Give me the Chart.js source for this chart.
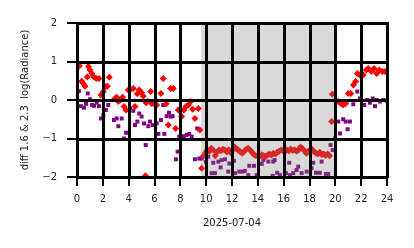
<!DOCTYPE html>
<html>
<head>
<meta charset="utf-8">
<script src="https://cdn.jsdelivr.net/npm/chart.js@4/dist/chart.umd.min.js"></script>
<style>
html,body{margin:0;padding:0;background:#fff;}
#wrap{width:414px;height:248px;position:relative;}
</style>
</head>
<body>
<div id="wrap"><canvas id="c"></canvas></div>
<script>
// Hours of day (x) and log-radiance differences (y)
const redX = [0.18,0.36,0.49,0.62,0.8,0.88,1.0,1.14,1.3,1.5,1.7,1.86,2.04,2.24,2.35,2.5,2.94,3.07,3.2,3.33,3.54,3.64,3.8,3.97,4.15,4.36,4.49,4.67,4.82,5.0,5.13,5.3,5.34,5.47,5.7,5.78,5.96,6.17,6.5,6.68,6.9,7.07,7.25,7.45,7.64,7.84,8.1,8.28,8.44,8.62,8.8,8.95,9.13,9.39,9.52,9.65,
9.8,9.95,10.1,10.25,10.4,10.55,10.7,10.85,11.0,11.15,11.3,11.45,11.6,11.75,11.9,12.05,12.2,12.35,12.5,12.65,12.8,12.95,13.1,13.25,13.4,13.55,13.7,13.85,14.0,14.15,14.3,14.45,14.6,14.75,14.9,15.05,15.2,15.35,15.5,15.65,15.8,15.95,16.1,16.25,16.4,16.55,16.7,16.85,17.0,17.15,17.3,17.45,17.6,17.75,17.9,18.05,18.2,18.35,18.5,18.65,18.8,18.95,19.1,19.25,19.4,19.55,
19.71,19.76,20.23,20.43,20.61,20.8,21.0,21.2,21.4,21.57,21.7,21.9,22.16,22.4,22.55,22.8,23.0,23.2,23.4,23.63,23.84];
const redY = [0.88,0.49,0.43,0.36,0.6,0.87,0.78,0.69,0.6,0.56,0.56,0.13,0.22,0.35,0.36,0.59,0.04,0.07,-0.04,0,0.07,-0.17,-0.26,0.26,0.28,0.3,-0.17,0.16,0.26,0.19,0.1,-1.97,-0.07,-0.04,0.22,-0.09,-0.09,-0.13,0.17,0.56,-0.1,-0.65,0.3,0.3,-0.74,-0.26,-0.43,-0.26,-0.17,-0.13,-0.04,-0.24,-0.48,-0.22,-0.78,-1.77,
-1.45,-1.37,-1.3,-1.33,-1.25,-1.3,-1.45,-1.35,-1.3,-1.32,-1.28,-1.3,-1.35,-1.3,-1.37,-1.3,-1.22,-1.27,-1.3,-1.35,-1.38,-1.33,-1.28,-1.25,-1.3,-1.36,-1.42,-1.45,-1.43,-1.46,-1.42,-1.45,-1.47,-1.43,-1.4,-1.43,-1.38,-1.4,-1.36,-1.33,-1.3,-1.32,-1.34,-1.3,-1.32,-1.27,-1.31,-1.29,-1.33,-1.3,-1.22,-1.26,-1.32,-1.38,-1.34,-1.3,-1.28,-1.34,-1.38,-1.4,-1.36,-1.42,-1.4,-1.44,-1.4,-1.45,
-0.56,0.15,-0.04,-0.09,-0.13,-0.09,0.17,0.17,0.39,0.48,0.69,0.65,0.65,0.78,0.82,0.74,0.82,0.69,0.78,0.74,0.74];

const purpleX = [0.15,0.31,0.54,0.7,0.83,1.0,1.18,1.32,1.52,1.7,1.86,2.04,2.24,2.42,2.86,3.07,3.2,3.46,3.64,3.8,4.1,4.36,4.49,4.67,4.82,5.0,5.19,5.32,5.52,5.65,5.86,6.04,6.17,6.3,6.5,6.68,6.76,6.94,7.12,7.25,7.4,7.66,7.79,7.92,8.1,8.28,8.49,8.69,8.88,9.13,9.31,9.47,
9.65,9.98,10.16,10.42,10.55,10.68,10.94,11.12,11.2,11.46,11.71,11.79,12.15,12.23,12.56,12.82,13.0,13.26,13.34,13.7,13.91,14.3,14.42,14.81,15.19,15.15,15.3,15.5,15.71,16.18,16.43,16.49,16.74,17.0,17.13,17.39,17.78,18.16,18.29,18.5,18.8,18.94,19.27,19.45,19.63,19.79,19.97,
20.23,20.36,20.61,20.8,20.95,21.13,21.39,21.7,21.9,22.24,22.47,22.68,22.89,23.07,23.2,23.45,23.71,23.97];
const purpleY = [0.23,-0.16,-0.2,-0.1,0.17,0.02,-0.13,-0.15,-0.07,-0.16,-0.48,-0.39,-0.26,-0.13,-0.52,-0.48,-0.68,-0.48,-1.0,-0.85,-0.22,-0.28,-0.65,-0.56,-0.35,-0.43,-0.61,-1.17,-0.68,-0.56,-0.65,-0.65,-0.61,-0.88,-0.52,-0.13,-0.88,-0.42,-0.33,-0.43,-0.42,-1.54,-1.34,-0.95,-0.95,-0.94,-0.91,-0.88,-0.95,-1.54,-0.74,-1.52,
-1.52,-1.6,-1.47,-1.9,-1.63,-1.9,-1.6,-1.75,-1.56,-1.54,-1.86,-1.65,-1.58,-1.9,-1.86,-1.86,-1.84,-1.95,-1.71,-1.71,-1.95,-1.66,-1.56,-1.6,-1.6,-1.97,-1.56,-1.89,-1.95,-1.9,-1.63,-1.95,-1.9,-1.82,-1.73,-1.9,-1.86,-1.77,-1.63,-1.89,-1.89,-1.6,-1.92,-1.92,-1.17,-1.3,-1.0,
-0.56,-0.87,-0.5,-0.56,-0.76,-0.56,-0.11,0.22,0.04,-0.13,0,-0.07,0.04,-0.16,0,-0.04,0,-0.02];

const xTicks = [0,2,4,6,8,10,12,14,16,18,20,22,24];
const yTicks = [-2,-1,0,1,2];
const shadeRange = [9.6, 20];
const dateLabel = '2025-07-04';
const yTitle = 'diff 1.6 & 2.3  log(Radiance)';

const toPts = (xs, ys) => xs.map((x, i) => ({x: x, y: ys[i]}));

// Shaded night span (over the points) and black grid on top of everything
const shadePlugin = {
  id: 'shade',
  afterDatasetsDraw(chart) {
    const {ctx, chartArea, scales} = chart;
    const x0 = scales.x.getPixelForValue(shadeRange[0]);
    const x1 = scales.x.getPixelForValue(shadeRange[1]);
    ctx.save();
    ctx.fillStyle = 'rgba(128,128,128,0.3)';
    ctx.fillRect(x0, chartArea.top, x1 - x0, chartArea.bottom - chartArea.top);
    ctx.restore();
  },
  afterDraw(chart) {
    const {ctx, chartArea, scales} = chart;
    ctx.save();
    ctx.globalAlpha = 1;
    ctx.globalCompositeOperation = 'source-over';
    ctx.fillStyle = '#000000';
    for (let i = 0; i < xTicks.length; i++) {
      const px = Math.round(scales.x.getPixelForValue(xTicks[i]));
      ctx.fillRect(px - 1, chartArea.top - 1, 3, chartArea.bottom - chartArea.top + 2);
    }
    for (let j = 0; j < yTicks.length; j++) {
      const py = Math.round(scales.y.getPixelForValue(yTicks[j]));
      ctx.fillRect(chartArea.left - 1, py - 1, chartArea.right - chartArea.left + 2, 3);
    }
    ctx.restore();
  }
};

const font = {family: 'DejaVu Sans', size: 10};

new Chart(document.getElementById('c'), {
  type: 'scatter',
  data: {
    datasets: [
      {label: 'purple', data: toPts(purpleX, purpleY), pointStyle: 'rect', pointRadius: 2.8, pointHoverRadius: 2.8, backgroundColor: '#800080', borderWidth: 0, order: 2},
      {label: 'red', data: toPts(redX, redY), pointStyle: 'rectRot', pointRadius: 3.5, pointHoverRadius: 3.5, backgroundColor: '#ff0000', borderWidth: 0, order: 1}
    ]
  },
  options: {
    responsive: true,
    maintainAspectRatio: false,
    devicePixelRatio: 1,
    animation: false,
    events: [],
    layout: {padding: {left: 0, right: 27, top: 23, bottom: 0}},
    plugins: {legend: {display: false}, tooltip: {enabled: false}},
    scales: {
      x: {
        type: 'linear', min: 0, max: 24,
        afterBuildTicks: s => { s.ticks = xTicks.map(v => ({value: v})); },
        afterFit: s => { s.height = 71; },
        grid: {drawOnChartArea: true, color: '#000', lineWidth: 2, tickLength: 9, tickColor: '#000', tickWidth: 2},
        border: {color: '#000', width: 2},
        ticks: {color: '#222', font: font, padding: 7, maxRotation: 0, autoSkip: false},
        title: {display: true, text: dateLabel, color: '#222', font: font, padding: {top: 0, bottom: 19}}
      },
      y: {
        type: 'linear', min: -2, max: 2,
        afterBuildTicks: s => { s.ticks = yTicks.map(v => ({value: v})); },
        afterFit: s => { s.width = 77; },
        grid: {drawOnChartArea: true, color: '#000', lineWidth: 2, tickLength: 10, tickColor: '#000', tickWidth: 2},
        border: {color: '#000', width: 2},
        ticks: {color: '#222', font: font, padding: 10, callback: v => (v < 0 ? '\u2212' + Math.abs(v) : String(v))},
        title: {display: true, text: yTitle, color: '#222', font: font, padding: {top: 19, bottom: 0}}
      }
    }
  },
  plugins: [shadePlugin]
});
</script>
</body>
</html>
